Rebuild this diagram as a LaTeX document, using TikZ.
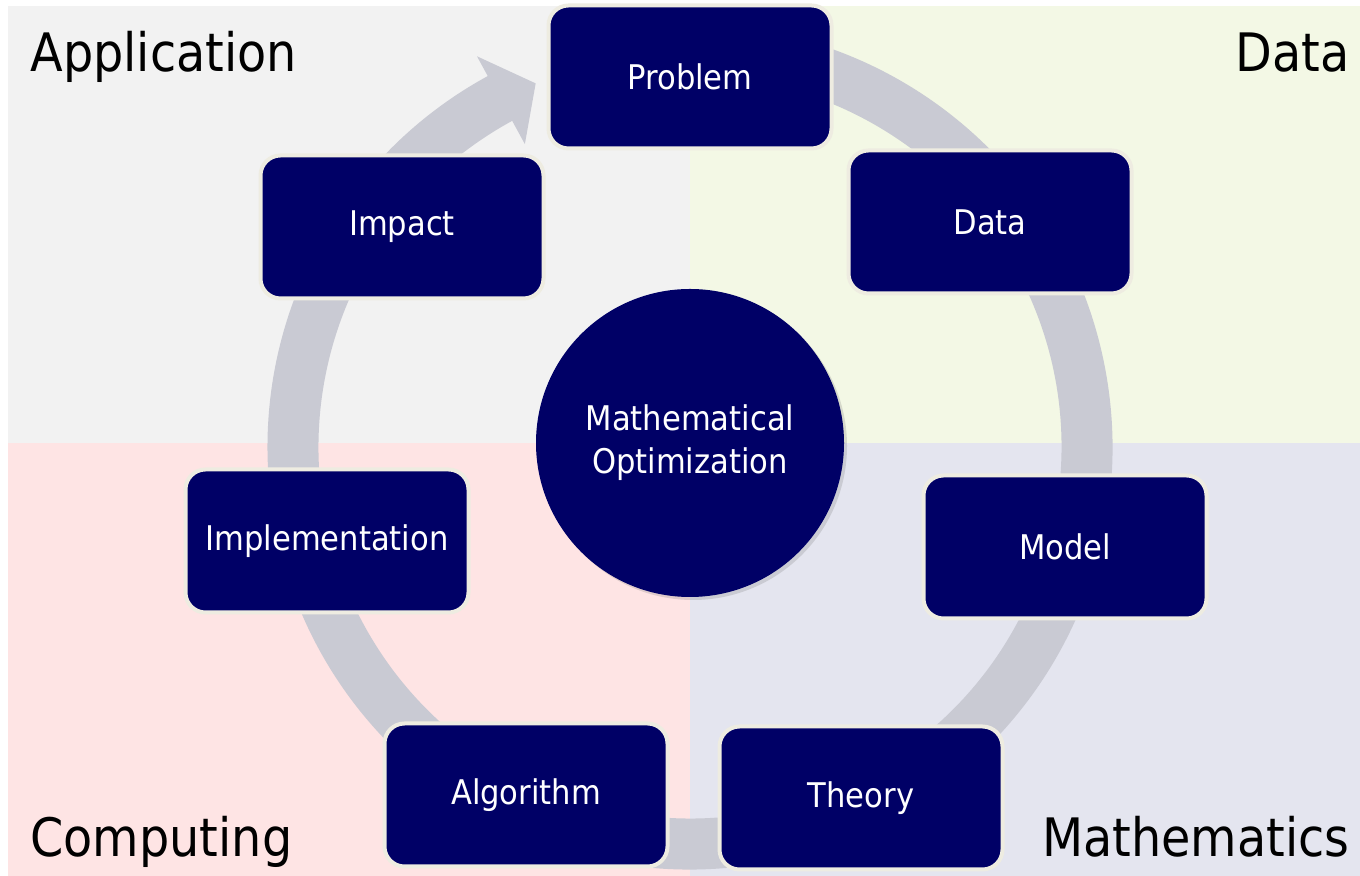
\documentclass[tikz,border=0pt]{standalone}
\usepackage{fontspec}
\setmainfont{DejaVu Sans}[FakeStretch=0.9]
\usetikzlibrary{positioning, shadows}
\definecolor{navy}{HTML}{000066}
\definecolor{rim}{HTML}{EEECE1}
\definecolor{ringgray}{HTML}{C9CAD3}
\definecolor{appbg}{HTML}{F2F2F2}
\definecolor{databg}{HTML}{F3F8E5}
\definecolor{compbg}{HTML}{FEE4E4}
\definecolor{mathbg}{HTML}{E4E5EF}
\tikzset{
        x=0.5pt, y=0.5pt, % one unit is one pixel of the layout
        stage/.style={draw=rim, line width=2pt, fill=navy, rounded corners=10pt,
          minimum width=141.5pt, minimum height=71.5pt, text=white,
          font=\fontsize{17}{20}\selectfont}, % the boxes around the cycle
        hub/.style={circle, fill=navy, minimum size=154pt, text=white, align=center,
          drop shadow={opacity=0.25, shadow xshift=1.5pt, shadow yshift=-1.5pt},
          font=\fontsize{17}{21.5}\selectfont}, % the centre disc
        corner/.style={inner sep=0pt, font=\fontsize{26.5}{30}\selectfont}, % quadrant titles
    }
\begin{document}
\begin{tikzpicture}
    \useasboundingbox (0,0) rectangle (1360,876);
    \fill[white] (0,0) rectangle (1360,876);
    % quadrants
    \fill[appbg] (8,433) rectangle (690,870);
    \fill[databg] (690,433) rectangle (1360,870);
    \fill[compbg] (8,0) rectangle (690,433);
    \fill[mathbg] (690,0) rectangle (1360,433);
    % the circular arrow, tail hidden under the first box
    \begin{scope}[shift={(690,429)}]
      \fill[ringgray] (100:211.25pt) arc[start angle=100, end angle=-241.4, radius=211.25pt]
        -- (118.6:222.5pt) -- (113:197.5pt) -- (118.6:172.5pt) -- (118.6:185.75pt)
        arc[start angle=-241.4, end angle=100, radius=185.75pt] -- cycle;
    \end{scope}
    \node[hub] (opt) at (690,433) {Mathematical\\Optimization};
    \node[stage] (problem) at (690,799) {Problem};
    \node[stage] (data) at (990,654) {Data};
    \node[stage] (model) at (1065,329) {Model};
    \node[stage] (theory) at (861,78) {Theory};
    \node[stage] (algo) at (526,81) {Algorithm};
    \node[stage] (impl) at (327,335) {Implementation};
    \node[stage] (impact) at (402,649) {Impact};
    \node[corner, anchor=base west] (app) at (30,804) {Application};
    \node[corner, anchor=base east] (dat) at (1350,804) {Data};
    \node[corner, anchor=base west] (comp) at (30,19) {Computing};
    \node[corner, anchor=base east] (math) at (1350,19) {Mathematics};
\end{tikzpicture}
\end{document}
